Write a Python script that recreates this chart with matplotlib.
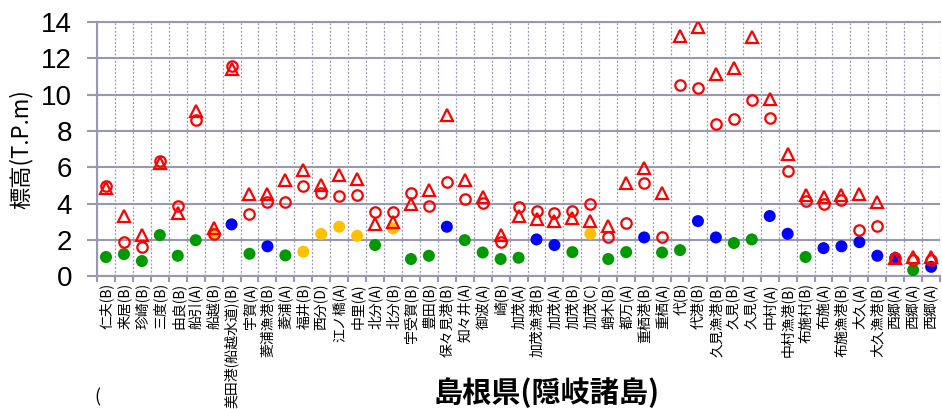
import numpy as np
import matplotlib
matplotlib.use("Agg")
import matplotlib.pyplot as plt

plt.rcParams['font.family'] = ['Noto Sans CJK JP', 'DejaVu Sans']

# 地点名
names = ["仁夫(B)", "来居(B)", "珍崎(B)", "三度(B)", "由良(B)", "船引(A)", "船越(B)",
         "美田港(船越水道)(B)", "宇賀(A)", "菱浦漁港(B)", "菱浦(A)", "福井(B)", "西分(D)",
         "江ノ橋(A)", "中里(A)", "北分(A)", "北分(B)", "宇受賀(B)", "豊田(B)", "保々見港(B)",
         "知々井(A)", "御波(A)", "崎(B)", "加茂(A)", "加茂漁港(B)", "加茂(A)", "加茂(B)",
         "加茂(C)", "蛸木(B)", "都万(A)", "重栖港(B)", "重栖(A)", "代(B)", "代港(B)",
         "久見漁港(B)", "久見(B)", "久見(A)", "中村(A)", "中村漁港(B)", "布施村(B)",
         "布施(A)", "布施漁港(B)", "大久(A)", "大久漁港(B)", "西郷(A)", "西郷(A)", "西郷(A)"]

# 三角（赤）
tri_vals = [4.85, 3.3, 2.26, 6.25, 3.46, 9.11, 2.65, 11.44, 4.5, 4.5, 5.29, 5.84, 5.02,
            5.57, 5.33, 2.85, 2.96, 3.97, 4.74, 8.88, 5.29, 4.37, 2.24, 3.31, 3.16, 3.01,
            3.18, 3.03, 2.74, 5.14, 5.94, 4.56, 13.25, 13.74, 11.14, 11.45, 13.19, 9.78,
            6.71, 4.45, 4.37, 4.45, 4.54, 4.1, 1.0, 1.03, 1.03]
# 丸（赤・白抜き）
circ_vals = [4.95, 1.86, 1.58, 6.35, 3.88, 8.6, 2.3, 11.6, 3.4, 4.1, 4.06, 4.98, 4.56,
             4.41, 4.47, 3.51, 3.53, 4.56, 3.88, 5.2, 4.26, 4.02, 1.86, 3.82, 3.6, 3.46,
             3.6, 3.99, 2.17, 2.94, 5.11, 2.15, 10.51, 10.34, 8.36, 8.65, 9.7, 8.69, 5.81,
             4.15, 4.0, 4.17, 2.54, 2.76, 1.0, 0.9, 0.9]
# 塗りつぶし丸
dot_vals = [1.05, 1.21, 0.83, 2.26, 1.12, 1.98, 2.35, 2.85, 1.23, 1.64, 1.14, 1.34, 2.32,
            2.72, 2.22, 1.71, 2.63, 0.94, 1.12, 2.72, 1.98, 1.3, 0.94, 1.01, 2.02, 1.71,
            1.32, 2.33, 0.94, 1.32, 2.13, 1.3, 1.43, 3.03, 2.13, 1.82, 2.02, 3.31, 2.33,
            1.05, 1.54, 1.64, 1.87, 1.12, 1.0, 0.33, 0.51]
dot_kind = list("gggggg" "ybgbgyyyy" "gyggbggggbbgyggbggbbggbbgbbbbbgb")

colores = {'g': '#009a00', 'b': '#0000ff', 'y': '#ffc000'}
grid_c = '#9898b2'

x = np.arange(len(names))

fig = plt.figure(figsize=(9.42, 4.09), dpi=100)
ax = fig.add_axes([0.103, 0.325, 0.895, 0.621])

# 塗りつぶし丸
ax.scatter(x, dot_vals, s=75, c=[colores[k] for k in dot_kind], zorder=3, linewidths=0)
# 三角・丸
ax.plot(x, tri_vals, ls='none', marker='^', ms=8, mfc='none', mec='red', mew=1.6, zorder=4)
ax.plot(x, circ_vals, ls='none', marker='o', ms=7.5, mfc='none', mec='red', mew=1.6, zorder=4)

ax.set_xlim(-0.5, len(names) - 0.5)
ax.set_ylim(0, 14)
ax.set_yticks(np.arange(0, 15, 2))
ax.tick_params(axis='y', length=7, width=1.5, color=grid_c, pad=11, labelsize=20)
for t in ax.get_yticklabels():
    t.set_family('Liberation Sans')
ax.yaxis.grid(True, color=grid_c, lw=1.5)

# x軸: ラベルは中央、目盛線は境界
ax.set_xticks(x)
ax.set_xticklabels(names, rotation=90, fontsize=10, va='top', ha='center')
ax.tick_params(axis='x', which='major', length=0, pad=5)
ax.set_xticks(np.arange(-0.5, len(names), 1), minor=True)
ax.tick_params(axis='x', which='minor', length=4, width=1.5, color=grid_c)
ax.grid(True, which='minor', axis='x', color=grid_c, lw=0.9, ls=(0, (1.5, 1.5)))
ax.set_axisbelow(True)

for s in ax.spines.values():
    s.set_color(grid_c)
    s.set_linewidth(1.5)
ax.spines['right'].set_visible(False)

ax.set_ylabel("標高(T.P.m)", fontsize=16, labelpad=6)

fig.text(0.58, 0.04, "島根県(隠岐諸島)", fontsize=21, fontweight='bold',
         ha='center', va='center')
fig.text(0.103, 0.005, "(", fontsize=13, ha='center', va='bottom')

fig.savefig("out.png", dpi=100)
